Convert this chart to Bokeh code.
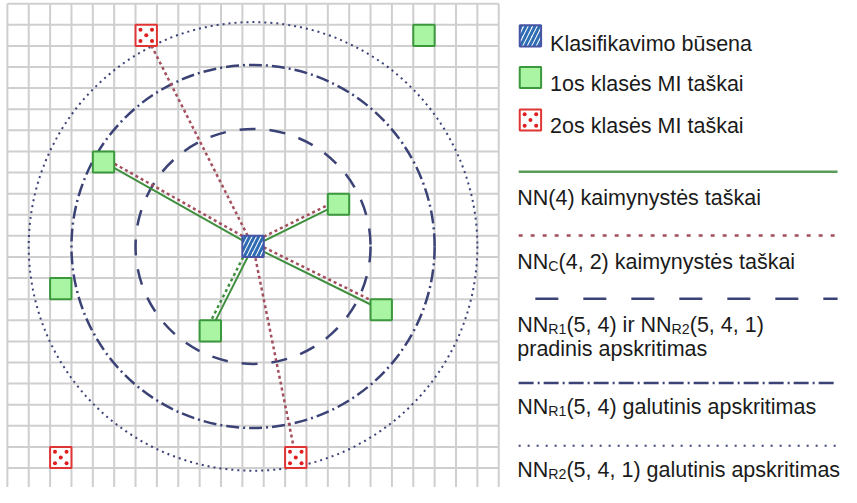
from bokeh.plotting import figure
from bokeh.models import Range1d
from bokeh.core.properties import value
from bokeh.embed import file_html
from bokeh.resources import INLINE

# ---------------- data ----------------
grid_cols = 23
grid_rows = 23
query_col = 11
query_row = 11
class1_cols = [19, 4, 15, 2, 9, 17]
class1_rows = [1, 7, 9, 13, 15, 14]
class2_cols = [6, 2, 13]
class2_rows = [1, 21, 21]
nn4_class1 = [1, 2, 4, 5]          # solid green links
nnc_class1 = [1, 2, 5]             # dotted maroon links to class 1 points
nnc_class2 = [0, 2]                # dotted maroon links to class 2 points
nnc_class1_green = [4]             # dotted green link
radius_initial = 5.5
radius_r1_final = 8.5
radius_r2_final = 10.5

legend_markers = ["Klasifikavimo būsena", "1os klasės MI taškai", "2os klasės MI taškai"]
legend_lines = [
    [("NN(4) kaimynystės taškai", False)],
    [("NN", False), ("C", True), ("(4, 2) kaimynystės taškai", False)],
    [("NN", False), ("R1", True), ("(5, 4) ir NN", False), ("R2", True), ("(5, 4, 1)", False)],
    [("pradinis apskritimas", False)],
    [("NN", False), ("R1", True), ("(5, 4)  galutinis apskritimas", False)],
    [("NN", False), ("R2", True), ("(5, 4, 1) galutinis apskritimas", False)],
]

# ---------------- layout helpers (reference pixel frame 857 x 503) ----------------
REF_W, REF_H = 857, 503
W, H = 841, 487
SX = W / REF_W
SY = H / REF_H
CX = 21.77   # ref px per cell, horizontal
CY = 21.8    # ref px per cell, vertical
OX = 7.0     # ref px of grid left edge
OY = 3.3     # ref px of grid top edge


def px_x(X):
    return (X - OX) / CX


def px_y(Y):
    return (Y - OY) / CY


p = figure(width=W, height=H, output_backend="svg", toolbar_location=None,
           x_range=Range1d(px_x(0), px_x(REF_W)),
           y_range=Range1d(px_y(REF_H), px_y(0)),
           min_border=0, outline_line_color=None,
           x_axis_location=None, y_axis_location=None)
p.xgrid.visible = False
p.ygrid.visible = False
p.background_fill_color = "white"
p.border_fill_color = "white"

GRID_C = "#cfcfcf"
NAVY = "#3b4276"
GREEN_L = "#3f8f3f"
MAROON = "#a34f5e"

# grid
vx = list(range(grid_cols + 1))
p.segment(x0=vx, y0=[0] * len(vx), x1=vx, y1=[grid_rows + 1] * len(vx),
          line_color=GRID_C, line_width=2)
hy = list(range(grid_rows + 1))
p.segment(x0=[0] * len(hy), y0=hy, x1=[grid_cols] * len(hy), y1=hy,
          line_color=GRID_C, line_width=2)

qx = query_col + 0.5
qy = query_row + 0.5

# circles
p.circle(x=[qx], y=[qy], radius=radius_initial, fill_color=None,
         line_color=NAVY, line_width=2.5, line_dash="16 14")
p.circle(x=[qx], y=[qy], radius=radius_r1_final, fill_color=None,
         line_color=NAVY, line_width=2.5, line_dash="13 4 2 4")
p.circle(x=[qx], y=[qy], radius=radius_r2_final, fill_color=None,
         line_color=NAVY, line_width=2, line_dash="2 4")

# links
c1x = [c + 0.5 for c in class1_cols]
c1y = [r + 0.5 for r in class1_rows]
c2x = [c + 0.5 for c in class2_cols]
c2y = [r + 0.5 for r in class2_rows]

off = -0.21
p.segment(x0=[qx] * len(nnc_class1), y0=[qy + off] * len(nnc_class1),
          x1=[c1x[i] for i in nnc_class1], y1=[c1y[i] + off for i in nnc_class1],
          line_color=MAROON, line_width=2.5, line_dash="3 3")
p.segment(x0=[qx] * len(nnc_class2), y0=[qy] * len(nnc_class2),
          x1=[c2x[i] for i in nnc_class2], y1=[c2y[i] for i in nnc_class2],
          line_color=MAROON, line_width=2.5, line_dash="3 3")
p.segment(x0=[qx + off] * len(nnc_class1_green), y0=[qy] * len(nnc_class1_green),
          x1=[c1x[i] + off for i in nnc_class1_green], y1=[c1y[i] for i in nnc_class1_green],
          line_color=GREEN_L, line_width=2.5, line_dash="3 3")
p.segment(x0=[qx] * len(nn4_class1), y0=[qy] * len(nn4_class1),
          x1=[c1x[i] for i in nn4_class1], y1=[c1y[i] for i in nn4_class1],
          line_color=GREEN_L, line_width=2)

# marker styles
GREEN_F = "#aaf5a3"
GREEN_B = "#3c983c"
RED_B = "#e03535"
RED_D = "#e01e1e"
BLUE_H = "#2e6db3"
BLUE_B = "#4753a3"
DOT_OFF = [(-0.27, -0.27), (0.27, -0.27), (0.0, 0.0), (-0.27, 0.27), (0.27, 0.27)]


def red_square(xs, ys):
    p.rect(x=xs, y=ys, width=1, height=1, fill_color="white", line_color=RED_B, line_width=2)
    dx = [x + o[0] for x in xs for o in DOT_OFF]
    dy = [y + o[1] for y in ys for o in DOT_OFF]
    p.scatter(x=dx, y=dy, size=4, marker="circle", fill_color=RED_D, line_color=None)


def query_square(xs, ys):
    p.rect(x=xs, y=ys, width=1, height=1, fill_color="white", line_color=BLUE_B, line_width=2,
           hatch_pattern="/", hatch_color=BLUE_H, hatch_scale=9, hatch_weight=3)


p.rect(x=c1x, y=c1y, width=1, height=1, fill_color=GREEN_F, line_color=GREEN_B, line_width=2)
red_square(c2x, c2y)
query_square([qx], [qy])

# ---------------- legend ----------------
lm_x = px_x(540)
lm_y = [px_y(36.5), px_y(79.5), px_y(123.5)]
query_square([lm_x], [lm_y[0]])
p.rect(x=[lm_x], y=[lm_y[1]], width=1, height=1, fill_color=GREEN_F, line_color=GREEN_B,
       line_width=2)
red_square([lm_x], [lm_y[2]])

FONT = "Liberation Sans"
FS = 21.5
SFS = 14.2
TXT = "#1b1b1b"

p.text(x=[px_x(560)] * 3, y=[px_y(44.5), px_y(86.5), px_y(129.5)], text=legend_markers,
       text_font=value(FONT), text_font_size=f"{FS}px", text_color=TXT,
       text_baseline="alphabetic", text_align="left")

# legend line samples
ll_y = [177, 242.7, 308, 395, 460]
ll_x0 = [528, 528, 545, 528, 528]
ll_x1 = 853
ll_style = [
    dict(line_color="#5b9b5b", line_width=2.5),
    dict(line_color=MAROON, line_width=2.5, line_dash="4 8"),
    dict(line_color=NAVY, line_width=2.5, line_dash="23 25"),
    dict(line_color=NAVY, line_width=2.5, line_dash="15 4 2 4"),
    dict(line_color=NAVY, line_width=2, line_dash="2 7"),
]
for yy, x0, st in zip(ll_y, ll_x0, ll_style):
    p.line(x=[px_x(x0), px_x(ll_x1)], y=[px_y(yy), px_y(yy)], **st)

# Liberation Sans (Arial metrics) advance widths, per 1000 em
AW = {" ": 278, "(": 333, ")": 333, ",": 278, "C": 722, "N": 722, "R": 722,
      "i": 222, "r": 333}
for d in "0123456789":
    AW[d] = 556


def width_ref(s, fs):
    # width in canvas px converted back to reference px
    return sum(AW.get(ch, 556) for ch in s) * fs / 1000.0 / SX


baselines = [203.5, 270, 335, 360, 420, 485]
main_x, main_y, main_t = [], [], []
sub_x, sub_y, sub_t = [], [], []
for pieces, base in zip(legend_lines, baselines):
    X = 526.6
    for s, is_sub in pieces:
        if is_sub:
            sub_x.append(px_x(X)); sub_y.append(px_y(base + 4)); sub_t.append(s)
            X += width_ref(s, SFS)
        else:
            main_x.append(px_x(X)); main_y.append(px_y(base)); main_t.append(s)
            X += width_ref(s, FS)

p.text(x=main_x, y=main_y, text=main_t, text_font=value(FONT), text_font_size=f"{FS}px",
       text_color=TXT, text_baseline="alphabetic", text_align="left")
p.text(x=sub_x, y=sub_y, text=sub_t, text_font=value(FONT), text_font_size=f"{SFS}px",
       text_color=TXT, text_baseline="alphabetic", text_align="left")

open("out.html", "w").write(file_html(p, INLINE))
